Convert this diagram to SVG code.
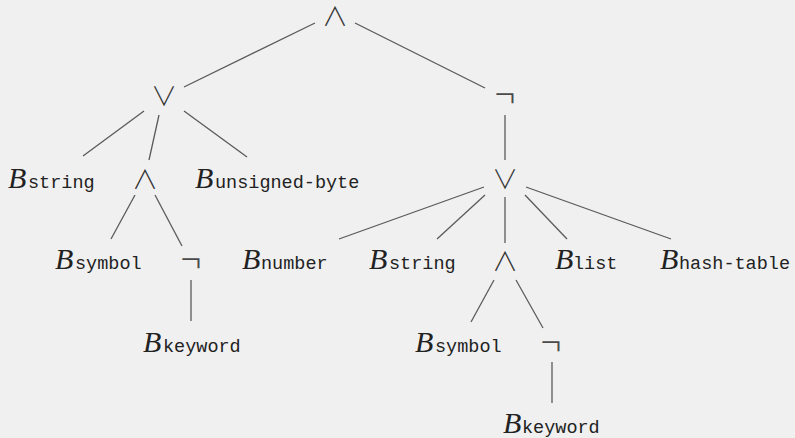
<svg xmlns="http://www.w3.org/2000/svg" width="795" height="438" viewBox="0 0 795 438">
  <style>
    .op { font-family: "Noto Sans CJK JP", "DejaVu Sans", sans-serif; font-weight: 300; font-size: 26px; fill: #333; text-anchor: middle; }
    .neg { font-size: 37px; fill: #4a4a4a; }
    .lbl { fill: #222; }
    .cal { font-family: "Liberation Serif", "DejaVu Serif", serif; font-style: italic; font-size: 30px; }
    .tt { font-family: "Liberation Mono", "DejaVu Sans Mono", monospace; font-size: 18.5px; }
    .edges line { stroke: #5a5a5a; stroke-width: 1.3; }
  </style>
  <rect width="795" height="438" fill="#f0f0f0"/>

  <!-- tree edges -->
  <g id="edges" class="edges">
    <line x1="315" y1="23" x2="184" y2="87"/>
    <line x1="355" y1="23" x2="485" y2="88"/>
    <line x1="144" y1="111" x2="83" y2="156"/>
    <line x1="159" y1="115" x2="149" y2="160"/>
    <line x1="184" y1="111" x2="247" y2="157"/>
    <line x1="135" y1="195" x2="111" y2="239"/>
    <line x1="155" y1="195" x2="182" y2="246"/>
    <line x1="191" y1="280" x2="191" y2="321"/>
    <line x1="505" y1="115" x2="505" y2="160"/>
    <line x1="484" y1="187" x2="339" y2="239"/>
    <line x1="485" y1="195" x2="437" y2="239"/>
    <line x1="505" y1="197" x2="505" y2="243"/>
    <line x1="525" y1="195" x2="567" y2="239"/>
    <line x1="526" y1="187" x2="671" y2="239"/>
    <line x1="494" y1="280" x2="471" y2="322"/>
    <line x1="516" y1="280" x2="543" y2="328"/>
    <line x1="552" y1="362" x2="552" y2="403"/>
  </g>

  <!-- operator nodes -->
  <g id="and-root"><text class="op" x="335" y="26">∧</text></g>
  <g id="or-left"><text class="op" x="164" y="106">∨</text></g>
  <g id="not-right"><text class="op neg" x="505" y="108">¬</text></g>
  <g id="and-left"><text class="op" x="145" y="189">∧</text></g>
  <g id="or-right"><text class="op" x="505" y="189">∨</text></g>
  <g id="not-left"><text class="op neg" x="191" y="273">¬</text></g>
  <g id="and-right"><text class="op" x="505" y="271">∧</text></g>
  <g id="not-right2"><text class="op neg" x="551" y="356">¬</text></g>

  <!-- type leaves -->
  <g id="b-string-1"><text class="lbl" y="188"><tspan class="cal" x="8">B</tspan><tspan class="tt" x="28">string</tspan></text></g>
  <g id="b-unsigned-byte"><text class="lbl" y="188"><tspan class="cal" x="195">B</tspan><tspan class="tt" x="215">unsigned-byte</tspan></text></g>
  <g id="b-symbol-1"><text class="lbl" y="269"><tspan class="cal" x="55">B</tspan><tspan class="tt" x="75">symbol</tspan></text></g>
  <g id="b-keyword-1"><text class="lbl" y="352"><tspan class="cal" x="143">B</tspan><tspan class="tt" x="163">keyword</tspan></text></g>
  <g id="b-number"><text class="lbl" y="269"><tspan class="cal" x="242">B</tspan><tspan class="tt" x="261">number</tspan></text></g>
  <g id="b-string-2"><text class="lbl" y="269"><tspan class="cal" x="369">B</tspan><tspan class="tt" x="389">string</tspan></text></g>
  <g id="b-list"><text class="lbl" y="269"><tspan class="cal" x="555">B</tspan><tspan class="tt" x="573">list</tspan></text></g>
  <g id="b-hash-table"><text class="lbl" y="269"><tspan class="cal" x="660">B</tspan><tspan class="tt" x="679">hash-table</tspan></text></g>
  <g id="b-symbol-2"><text class="lbl" y="352"><tspan class="cal" x="415">B</tspan><tspan class="tt" x="435">symbol</tspan></text></g>
  <g id="b-keyword-2"><text class="lbl" y="433"><tspan class="cal" x="503">B</tspan><tspan class="tt" x="522">keyword</tspan></text></g>
</svg>
